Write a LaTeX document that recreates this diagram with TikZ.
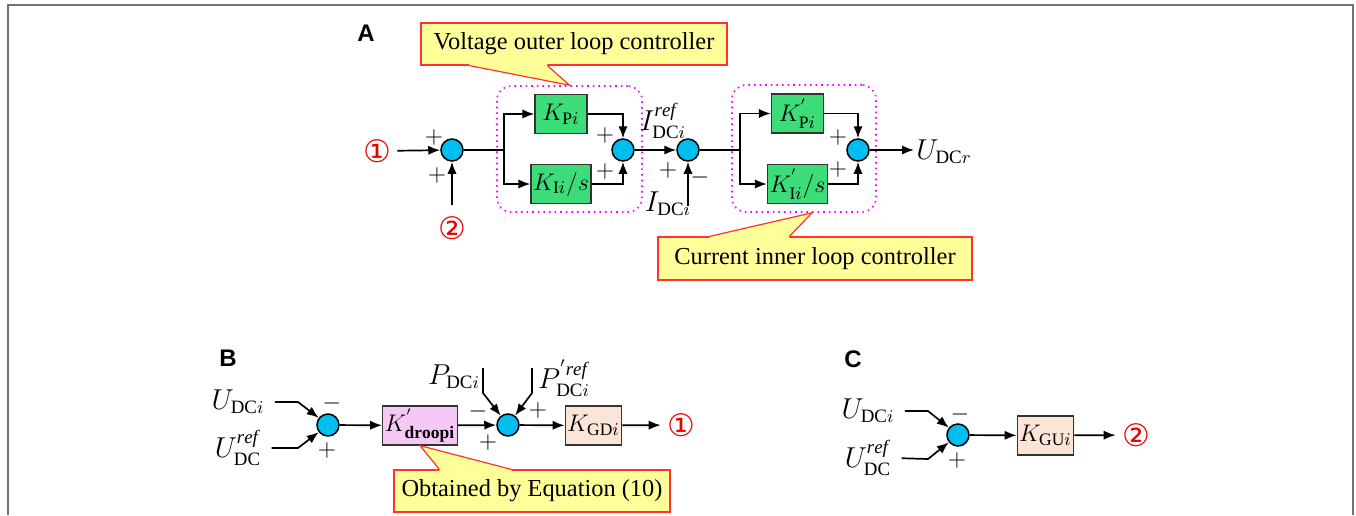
\documentclass[tikz,border=0pt]{standalone}
\usepackage{amsmath}
\usepackage{fontspec}
\setmainfont{Liberation Serif}
\newfontfamily\circfont{DejaVu Sans}
\newfontfamily\panelfont{Liberation Sans}
\usetikzlibrary{arrows.meta, calc}
\usepackage{xcolor}
\definecolor{sumblue}{RGB}{0,190,240}
\definecolor{gaingreen}{RGB}{60,220,120}
\definecolor{drooppink}{RGB}{245,200,245}
\definecolor{gdpeach}{RGB}{252,228,214}
\definecolor{calloutyellow}{RGB}{255,255,153}
\definecolor{calloutred}{RGB}{255,50,50}
\definecolor{groupmagenta}{RGB}{255,0,255}
\definecolor{circred}{RGB}{235,0,0}
\tikzset{
    sumnode/.style={
        circle, draw=black, fill=sumblue,
        minimum size=11pt, inner sep=0pt, line width=0.75pt
    },
    gain/.style={
        rectangle, draw=black!80, fill=gaingreen,
        minimum width=26pt, minimum height=19.5pt, inner sep=1pt,
        font=\fontsize{12.5}{14}\selectfont, line width=0.6pt
    },
    droop/.style={gain, fill=drooppink, minimum width=32pt},
    gd/.style={gain, fill=gdpeach},
    ctrlgroup/.style={
        rectangle, rounded corners=7pt,
        draw=groupmagenta, dotted, line width=0.8pt
    },
    callout/.style={
        rectangle, draw=calloutred, fill=calloutyellow,
        line width=0.6pt, inner sep=0pt,
        font=\fontsize{12.2}{14}\selectfont
    },
    calloutfill/.style={fill=calloutyellow},
    calloutedge/.style={draw=calloutred, line width=0.6pt},
    sig/.style={-{Latex[length=6pt,width=4.6pt]}, line width=0.85pt},
    tonum/.style={sig, shorten >=3pt},
    wire/.style={line width=0.85pt},
    sgn/.style={font=\fontsize{11.5}{12}\selectfont, inner sep=0pt},
    lab/.style={font=\fontsize{13.5}{15}\selectfont, inner sep=1pt},
    circnum/.style={text=circred, font=\circfont\fontsize{15.5}{17}\selectfont, inner sep=0pt},
    panel/.style={font=\panelfont\bfseries\fontsize{12}{14}\selectfont},
    outerframe/.style={draw=black!55, line width=1pt}
}

\begin{document}
\begin{tikzpicture}[x=0.5pt, y=-0.5pt]
    \useasboundingbox (0,0) rectangle (1356,515);
    \draw[outerframe] (8,515) -- (8,5) -- (1353,5) -- (1353,515);

    % A
    \node[panel] (pa) at (366,33) {A};
    \node[circnum] (in1) at (377,151) {①};
    \node[sumnode] (s1) at (452,150) {};
    \node[circnum] (in2) at (452,228) {②};
    \coordinate (b1) at (504,150);
    \node[ctrlgroup, minimum width=72.5pt, minimum height=63pt] (volgrp) at (569.5,149) {};
    \node[gain] (kp) at (561,114) {$K_{\mathrm{P}i}$};
    \node[gain] (ki) at (561,184) {$K_{\mathrm{I}i}/s$};
    \node[sumnode] (s2) at (623,150) {};
    \node[sumnode] (s3) at (688,150) {};
    \node[lab] (iref) at (663,121) {$I_{\mathrm{DC}i}^{\mathit{ref}}$};
    \coordinate (idc) at (688,206);
    \node[lab] (idclab) at (668,204) {$I_{\mathrm{DC}i}$};
    \coordinate (b2) at (740,150);
    \node[ctrlgroup, minimum width=72pt, minimum height=63.5pt] (curgrp) at (804,148.5) {};
    \node[gain] (kp2) at (797.5,113.5) {$K^{'}_{\mathrm{P}i}$};
    \node[gain] (ki2) at (797.5,184) {$K^{'}_{\mathrm{I}i}/s$};
    \node[sumnode] (s4) at (858,150) {};
    \node[lab, anchor=west] (udcr) at (914,152) {$U_{\mathrm{DC}r}$};

    \draw[sig, shorten <=3pt] (in1) -- (s1);
    \draw[sig] ($(in2.north)+(0,-11)$) -- (s1);
    \draw[wire] (s1) -- (b1);
    \draw[sig] (b1) |- (kp);
    \draw[sig] (b1) |- (ki);
    \draw[sig] (kp) -| (s2);
    \draw[sig] (ki) -| (s2);
    \draw[sig] (s2) -- (s3);
    \draw[sig] (idc) -- (s3);
    \draw[wire] (s3) -- (b2);
    \draw[sig] (b2) |- (kp2);
    \draw[sig] (b2) |- (ki2);
    \draw[sig] (kp2) -| (s4);
    \draw[sig] (ki2) -| (s4);
    \draw[sig] (s4) -- (udcr.west |- s4);

    \node[sgn] at (434,137) {$+$};
    \node[sgn] at (437,175) {$+$};
    \node[sgn] at (605,135) {$+$};
    \node[sgn] at (605,171) {$+$};
    \node[sgn] at (668,170) {$+$};
    \node[sgn] at (700,177) {$-$};
    \node[sgn] at (838,137) {$+$};
    \node[sgn] at (838,169) {$+$};

    \node[callout, minimum width=153pt, minimum height=21pt] (vcall) at (574,44) {Voltage outer loop controller};
    \fill[calloutfill] ($(vcall.south west)+(49,-3)$) -- ($(vcall.south west)+(49,0)$) -- (volgrp.north)
        -- ($(vcall.south west)+(127,0)$) -- ($(vcall.south west)+(127,-3)$) -- cycle;
    \draw[calloutedge] ($(vcall.south west)+(49,0)$) -- (volgrp.north) -- ($(vcall.south west)+(127,0)$);

    \node[callout, minimum width=157pt, minimum height=21.5pt] (ccall) at (815,258.5) {Current inner loop controller};
    \fill[calloutfill] ($(ccall.north west)+(52,3)$) -- ($(ccall.north west)+(52,0)$) -- ($(curgrp.south)+(8,0)$)
        -- ($(ccall.north west)+(132,0)$) -- ($(ccall.north west)+(132,3)$) -- cycle;
    \draw[calloutedge] ($(ccall.north west)+(52,0)$) -- ($(curgrp.south)+(8,0)$) -- ($(ccall.north west)+(132,0)$);

    % B
    \node[panel] (pb) at (228,358) {B};
    \node[lab] (ub1) at (238,402) {$U_{\mathrm{DC}i}$};
    \node[lab] (ub2) at (238,448) {$U_{\mathrm{DC}}^{\mathit{ref}}$};
    \node[sumnode] (s5) at (328,425) {};
    \node[droop] (kdr) at (420,425.5) {$K^{'}_{\mathbf{droopi}}$};
    \node[sumnode] (s6) at (508,425) {};
    \node[lab] (pdc) at (454,377) {$P_{\mathrm{DC}i}$};
    \node[lab] (pref) at (564,378) {$P_{\mathrm{DC}i}^{'\mathit{ref}}$};
    \coordinate (pt1) at (483,368);
    \coordinate (pt2) at (532,368);
    \node[gd] (kgd) at (593.5,425.5) {$K_{\mathrm{GD}i}$};
    \node[circnum] (out1) at (681,425) {①};

    \draw[sig, shorten <=4pt] (ub1.east) -- (298,402) -- (s5);
    \draw[sig, shorten <=4pt] (ub2.east) -- (298,448) -- (s5);
    \draw[sig] (s5) -- (kdr);
    \draw[sig] (kdr) -- (s6);
    \draw[sig] (pt1) -- ++(0,25) -- (s6);
    \draw[sig] (pt2) -- ++(0,25) -- (s6);
    \draw[sig] (s6) -- (kgd);
    \draw[tonum] (kgd) -- (out1);

    \node[sgn] at (332,403) {$-$};
    \node[sgn] at (327,450) {$+$};
    \node[sgn] at (478,411) {$-$};
    \node[sgn] at (488,442) {$+$};
    \node[sgn] at (538,410) {$+$};

    \node[callout, minimum width=138pt, minimum height=21pt] (ocall) at (532,491) {Obtained by Equation (10)};
    \fill[calloutfill] ($(ocall.north west)+(46,3)$) -- ($(ocall.north west)+(46,0)$) -- (kdr.south)
        -- ($(ocall.north west)+(118,0)$) -- ($(ocall.north west)+(118,3)$) -- cycle;
    \draw[calloutedge] ($(ocall.north west)+(46,0)$) -- (kdr.south) -- ($(ocall.north west)+(118,0)$);

    % C
    \node[panel] (pc) at (853,359) {C};
    \node[lab] (uc1) at (868,411) {$U_{\mathrm{DC}i}$};
    \node[lab] (uc2) at (868,458) {$U_{\mathrm{DC}}^{\mathit{ref}}$};
    \node[sumnode] (s7) at (958,435) {};
    \node[gd] (kgu) at (1045.5,435.5) {$K_{\mathrm{GU}i}$};
    \node[circnum] (out2) at (1136,435) {②};

    \draw[sig, shorten <=4pt] (uc1.east) -- (928,411) -- (s7);
    \draw[sig, shorten <=4pt] (uc2.east) -- (928,459) -- (s7);
    \draw[sig] (s7) -- (kgu);
    \draw[tonum] (kgu) -- (out2);

    \node[sgn] at (960,414) {$-$};
    \node[sgn] at (957,460) {$+$};
\end{tikzpicture}
\end{document}
